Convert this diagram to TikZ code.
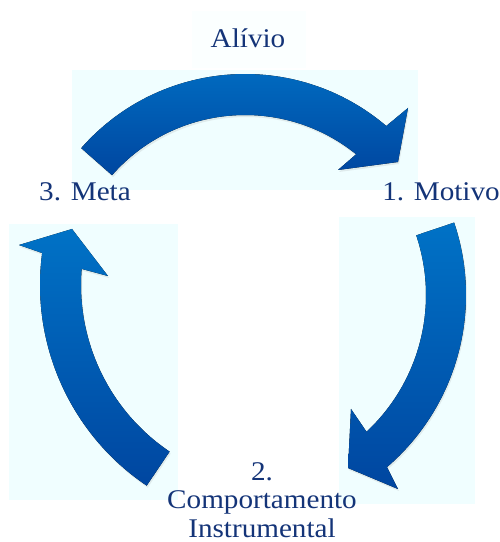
\documentclass[tikz,border=0pt]{standalone}
\usepackage{fontspec}
\setmainfont[FakeStretch=1.08]{Liberation Serif}
\usetikzlibrary{shadows,calc}
\definecolor{txt}{RGB}{20,52,120}
\definecolor{bgc}{RGB}{240,254,255}
\definecolor{bgb}{RGB}{251,255,255}
\definecolor{atop}{RGB}{0,114,198}
\definecolor{abot}{RGB}{0,70,160}
\begin{document}
\begin{tikzpicture}[x=1pt,y=1pt,
  lbl/.style={text=txt, font=\fontsize{27}{28.5}\selectfont, inner sep=0pt, anchor=base},
  bgbox/.style={fill=bgc, draw=none},
  carrow/.style={top color=atop, bottom color=abot, draw=none,
     drop shadow={opacity=0.15, shadow xshift=1pt, shadow yshift=-2pt}}]
\useasboundingbox (0,0) rectangle (500,542);
\fill[white] (0,0) rectangle (500,542);
% light backgrounds
\fill[bgb] (192,474) rectangle (306,531);
\fill[bgc] (72,352) rectangle (418,472);
\fill[bgc] (9,42) rectangle (178,318);
\fill[bgc] (339,38) rectangle (475,325);
% top arrow
\fill[carrow] ($(245,250)+(138.7:218)$) arc[start angle=138.7, end angle=49.6, radius=218]
  -- (408,434) -- (398,380) -- (338,372)
  -- ($(245,250)+(51.1:177)$) arc[start angle=51.1, end angle=138.7, radius=177] -- cycle;
% right arrow
\fill[carrow] ($(239,247)+(18.6:227)$) arc[start angle=18.6, end angle=-49.3, radius=227]
  -- (398,53) -- (348,74) -- (351,133)
  -- ($(239,247)+(-47:187)$) arc[start angle=-47, end angle=18.6, radius=187] -- cycle;
% left arrow
\fill[carrow] ($(282,257)+(236:242)$) arc[start angle=236, end angle=172.4, radius=242]
  -- (19,297) -- (72,313) -- (108,266)
  -- ($(282,257)+(175.4:201)$) arc[start angle=175.4, end angle=236, radius=201] -- cycle;
% labels
\node[lbl] (alivio) at (248,494) {Alívio};
\node[lbl] (meta) at (85,341) {3. Meta};
\node[lbl] (motivo) at (441,341) {1. Motivo};
\node[lbl, align=center] (comp) at (262,5) {2.\\Comportamento\\Instrumental};
\end{tikzpicture}
\end{document}
